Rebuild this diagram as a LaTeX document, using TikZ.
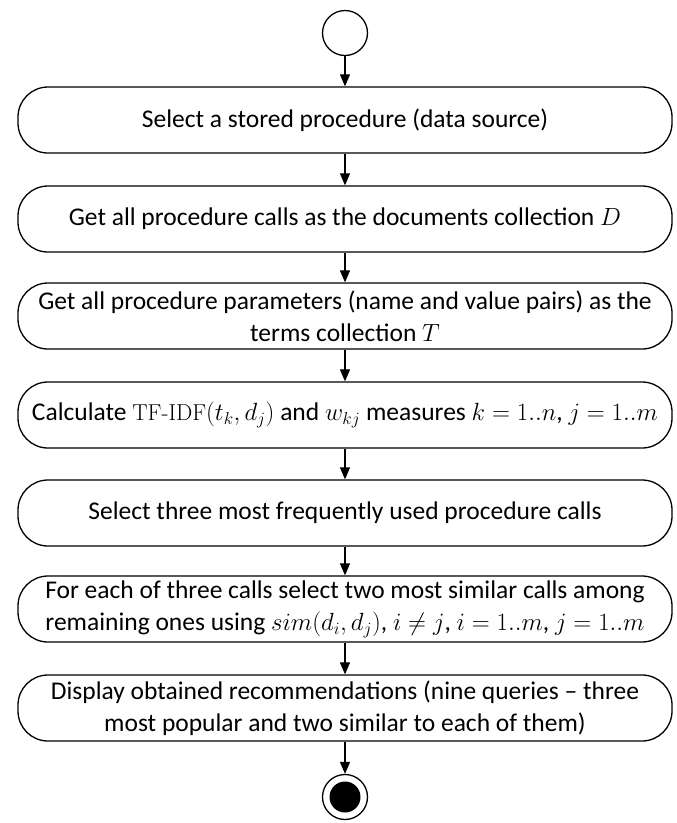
\documentclass[tikz,border=0pt]{standalone}
\usepackage{fontspec}
\setmainfont{Carlito}
\newfontfamily\lmr{Latin Modern Roman}
\usetikzlibrary{arrows.meta}
% formulas are set a little smaller than the surrounding text
\newcommand\fml[1]{{\fontsize{23}{32}\selectfont$#1$}}
\begin{document}
\begin{tikzpicture}[x=1pt,y=-1pt,
  every node/.style={font=\fontsize{25.5}{32}\selectfont},
  actbox/.style={draw, line width=1.3pt, rectangle, rounded corners=30pt,
    minimum width=654pt, minimum height=66pt, align=center, inner sep=0pt},
  flow/.style={line width=1.2pt, -{Triangle[length=12pt,width=10pt]}},
  ring/.style={draw, line width=1.3pt, circle, minimum size=45pt, inner sep=0pt}]
\useasboundingbox (0,0) rectangle (677,823);

\node[ring] (start) at (345,33) {};

\node[actbox] (s1) at (345,120) {Select a stored procedure (data source)};
\node[actbox] (s2) at (345,219) {Get all procedure calls as the documents collection \fml{D}};
\node[actbox] (s3) at (345,316) {Get all procedure parameters (name and value pairs) as the\\terms collection \fml{T}};
\node[actbox] (s4) at (345,415) {Calculate \fml{\hbox{\lmr TF-IDF}(t_k, d_j)} and \fml{w_{kj}} measures \fml{k = 1..n}, \fml{j = 1..m}};
\node[actbox] (s5) at (345,513) {Select three most frequently used procedure calls};
\node[actbox] (s6) at (345,609) {For each of three calls select two most similar calls among\\remaining ones using \fml{sim(d_i, d_j)}, \fml{i \neq j}, \fml{i = 1..m}, \fml{j = 1..m}};
\node[actbox] (s7) at (345,708) {Display obtained recommendations (nine queries -- three\\most popular and two similar to each of them)};

\node[ring] (stop) at (345,797) {};
\node[circle, fill=black, minimum size=31pt, inner sep=0pt] (stopdot) at (stop.center) {};

\draw[flow] (start) -- (s1);
\draw[flow] (s1) -- (s2);
\draw[flow] (s2) -- (s3);
\draw[flow] (s3) -- (s4);
\draw[flow] (s4) -- (s5);
\draw[flow] (s5) -- (s6);
\draw[flow] (s6) -- (s7);
\draw[flow] (s7) -- (stop);
\end{tikzpicture}
\end{document}
